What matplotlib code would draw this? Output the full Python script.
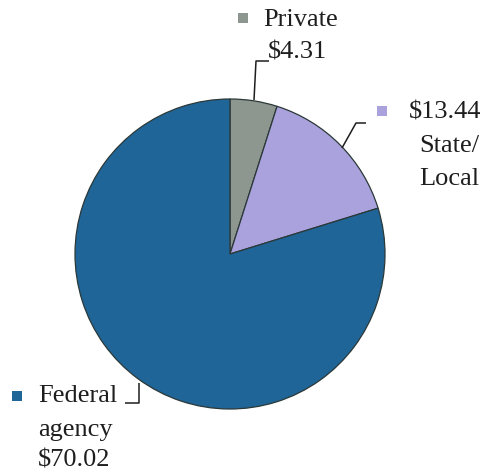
import matplotlib
matplotlib.use("Agg")
import matplotlib.pyplot as plt

# Funding sources (millions of dollars)
sources = ["Private", "State/Local", "Federal agency"]
amounts = [4.31, 13.44, 70.02]
colors = ["#8e9690", "#aaa2dc", "#1f6598"]

W, H = 487, 472
fig = plt.figure(figsize=(W / 100, H / 100), dpi=100)
ax = fig.add_axes([0, 0, 1, 1])

cx, cy, r = 230, H - 254, 155
ax.pie(amounts, colors=colors, startangle=90, counterclock=False,
       center=(cx, cy), radius=r, frame=True,
       wedgeprops=dict(edgecolor="#2b3838", linewidth=0.9))
ax.set_xlim(0, W)
ax.set_ylim(0, H)
ax.set_aspect("equal")
ax.axis("off")

font = dict(family=["Liberation Serif", "DejaVu Serif"], fontsize=19,
            color="#1e1e1e", va="center")

def y(p):
    return H - p

def marker(px, py, color):
    ax.add_patch(plt.Rectangle((px - 5, y(py) - 5), 10, 10, color=color, lw=0))

def leader(points):
    xs = [p[0] for p in points]
    ys = [y(p[1]) for p in points]
    ax.plot(xs, ys, color="#1e1e1e", lw=1.1, solid_capstyle="butt")

# Private
marker(243, 18, colors[0])
ax.text(263, y(20), sources[0], ha="left", **font)
ax.text(268, y(53), f"${amounts[0]:.2f}", ha="left", **font)
leader([(254, 100), (256, 61), (269, 61)])

# State/Local
marker(382, 111, colors[1])
ax.text(481, y(112), f"${amounts[1]:.2f}", ha="right", **font)
ax.text(479, y(146), "State/", ha="right", **font)
ax.text(479, y(179), "Local", ha="right", **font)
leader([(342, 148), (356, 123), (366, 123)])

# Federal agency
marker(17, 396, colors[2])
ax.text(38, y(396), "Federal", ha="left", **font)
ax.text(38, y(430), "agency", ha="left", **font)
ax.text(38, y(461), f"${amounts[2]:.2f}", ha="left", **font)
leader([(139, 383), (139, 403), (125, 403)])

fig.savefig("out.png", dpi=100, facecolor="white")
